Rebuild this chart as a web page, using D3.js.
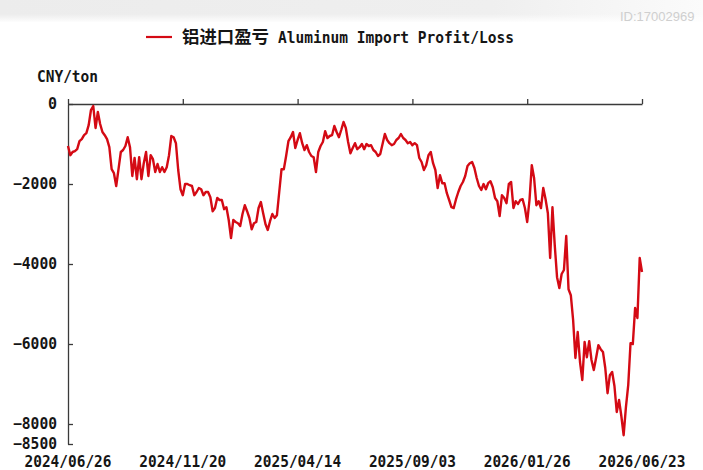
<!DOCTYPE html>
<html><head><meta charset="utf-8">
<script src="https://cdn.jsdelivr.net/npm/d3@7"></script>
<style>body{margin:0;background:#fff}svg{display:block}</style>
</head><body>
<svg id="c" width="703" height="470"></svg>
<script>
// Aluminum import profit/loss, CNY/ton
const values = [
-1050,-1280,-1200,-1180,-1130,-930,-880,-780,-730,-530,
-150,-50,-600,-200,-500,-700,-780,-880,-1080,-1630,
-1730,-2050,-1630,-1200,-1150,-1050,-830,-1080,-1800,-1350,
-1880,-1330,-1880,-1480,-1200,-1800,-1280,-1380,-1700,-1500,
-1700,-1580,-1700,-1580,-1280,-800,-830,-980,-1650,-2130,
-2280,-2000,-2000,-2030,-2050,-2280,-2200,-2100,-2130,-2280,
-2200,-2200,-2330,-2680,-2600,-2350,-2400,-2400,-2630,-2580,
-2900,-3350,-2900,-2950,-2980,-3050,-2750,-2530,-2680,-2850,
-3130,-2980,-2950,-2600,-2450,-2730,-3000,-3150,-2930,-2750,
-2850,-2780,-2200,-1630,-1630,-1300,-930,-830,-700,-1100,
-900,-730,-980,-1150,-1030,-1200,-1300,-1330,-1700,-1200,
-1050,-950,-680,-850,-800,-780,-550,-700,-830,-650,
-450,-600,-950,-1230,-1100,-980,-1130,-1080,-1000,-1130,
-1000,-1050,-1030,-1150,-1200,-1300,-1250,-1000,-750,-900,
-980,-1030,-1000,-900,-850,-750,-850,-900,-980,-950,
-1030,-980,-1030,-1350,-1450,-1650,-1530,-1280,-1200,-1480,
-1650,-2100,-1780,-1980,-1980,-2230,-2400,-2580,-2600,-2380,
-2200,-2050,-1950,-1800,-1550,-1480,-1450,-1600,-1850,-2050,
-2150,-2000,-2130,-1980,-1930,-2080,-2350,-2430,-2800,-2280,
-2350,-2480,-2000,-1950,-2600,-2430,-2500,-2400,-2380,-2600,
-2950,-2400,-1530,-1850,-2530,-2430,-2600,-2100,-2380,-2730,
-3850,-2580,-3530,-4330,-4600,-4250,-4150,-3300,-4630,-4780,
-5400,-6350,-5700,-6450,-6900,-5950,-6330,-5930,-6400,-6650,
-6350,-6030,-6130,-6200,-6600,-7230,-6780,-6700,-7050,-7700,
-7400,-7800,-8280,-7580,-7030,-5980,-6000,-5100,-5350,-3850,-4200
];
const tickLabels = ["2024/06/26","2024/11/20","2025/04/14","2025/09/03","2026/01/26","2026/06/23"];
const tickIndex = [0,50,100,150,200,250];
const yTicks = [0,-2000,-4000,-6000,-8000,-8500];
const yDomain = [-8500,0];
const seriesNameCn = "铝进口盈亏";
const seriesNameEn = "Aluminum Import Profit/Loss";
const unitLabel = "CNY/ton";
const watermark = "ID:17002969";

const RED = "#d40a14", AX = "#3a3a3a", TXT = "#151515";
const MONO = "'DejaVu Sans Mono', monospace";

const svg = d3.select("#c");
const defs = svg.append("defs");
const g1 = defs.append("linearGradient").attr("id","band").attr("x1",0).attr("x2",1).attr("y1",0).attr("y2",0);
g1.append("stop").attr("offset","0%").attr("stop-color","#ececec");
g1.append("stop").attr("offset","70%").attr("stop-color","#efefef");
g1.append("stop").attr("offset","100%").attr("stop-color","#fbfbfb");
const g2 = defs.append("linearGradient").attr("id","fade").attr("x1",0).attr("x2",0).attr("y1",0).attr("y2",1);
g2.append("stop").attr("offset","0%").attr("stop-color","#fff").attr("stop-opacity",0);
g2.append("stop").attr("offset","100%").attr("stop-color","#fff").attr("stop-opacity",1);
svg.append("rect").attr("x",0).attr("y",0).attr("width",703).attr("height",22).attr("fill","url(#band)");
svg.append("rect").attr("x",0).attr("y",14).attr("width",703).attr("height",9).attr("fill","url(#fade)");

svg.append("text").attr("x",620).attr("y",21).attr("font-family","'Liberation Sans', Arial, sans-serif")
  .attr("font-size",13).attr("fill","#cfcfcf").text(watermark);

const x = d3.scaleLinear().domain([0, values.length - 1]).range([68, 642]);
const y = d3.scaleLinear().domain(yDomain).range([444, 104]);

// top x axis (at value 0), ticks pointing up
const xAxis = d3.axisTop(x).tickValues(tickIndex).tickFormat("").tickSize(5).tickSizeOuter(0);
const gx = svg.append("g").attr("transform", `translate(0,${y(0)})`).call(xAxis);
gx.select(".domain").attr("stroke", AX).attr("stroke-width", 1.3);
gx.selectAll(".tick line").attr("stroke", AX).attr("stroke-width", 1.3);

// y axis with ticks pointing inward (right)
const yAxis = d3.axisRight(y).tickValues(yTicks).tickFormat("").tickSize(5).tickSizeOuter(0);
const gy = svg.append("g").attr("transform", `translate(${x(0)},0)`).call(yAxis);
gy.select(".domain").attr("stroke", AX).attr("stroke-width", 1.3);
gy.selectAll(".tick line").attr("stroke", AX).attr("stroke-width", 1.3);

// y labels
svg.append("g").selectAll("text").data(yTicks).join("text")
  .attr("x", 57).attr("y", d => y(d)).attr("dy", "0.36em")
  .attr("text-anchor", "end").attr("font-family", MONO).attr("font-size", 15)
  .attr("font-weight", "bold").attr("fill", TXT)
  .each(function(d){ const s = d === 0 ? "0" : "−" + Math.abs(d);
    d3.select(this).text(s);
    if (s.length > 1) d3.select(this).attr("textLength", s.length * 8.8).attr("lengthAdjust","spacingAndGlyphs"); });

// x labels at bottom
svg.append("g").selectAll("text").data(tickIndex).join("text")
  .attr("x", d => x(d)).attr("y", 467).attr("text-anchor", "middle")
  .attr("font-family", MONO).attr("font-size", 15).attr("font-weight", "bold").attr("fill", TXT)
  .attr("textLength", 87).attr("lengthAdjust", "spacingAndGlyphs")
  .text((d, i) => tickLabels[i]);

// unit label
svg.append("text").attr("x", 37).attr("y", 82).attr("font-family", MONO).attr("font-size", 16)
  .attr("font-weight", "bold").attr("fill", TXT)
  .attr("textLength", 61).attr("lengthAdjust", "spacingAndGlyphs").text(unitLabel);

// legend
svg.append("line").attr("x1",146).attr("x2",172).attr("y1",37).attr("y2",37)
  .attr("stroke", RED).attr("stroke-width", 2.2);
svg.append("text").attr("x",182).attr("y",43).attr("font-family","'Noto Sans CJK SC', sans-serif")
  .attr("font-size",17.4).attr("font-weight",700).attr("fill",TXT).text(seriesNameCn);
svg.append("text").attr("x",278).attr("y",43).attr("font-family",MONO).attr("font-size",16)
  .attr("font-weight","bold").attr("fill",TXT)
  .attr("textLength",236).attr("lengthAdjust","spacingAndGlyphs").text(seriesNameEn);

// series line
const line = d3.line().x((d, i) => x(i)).y(d => y(d));
svg.append("path").datum(values).attr("d", line).attr("fill", "none")
  .attr("stroke", RED).attr("stroke-width", 2.4).attr("stroke-linejoin", "round");
</script>
</body></html>
